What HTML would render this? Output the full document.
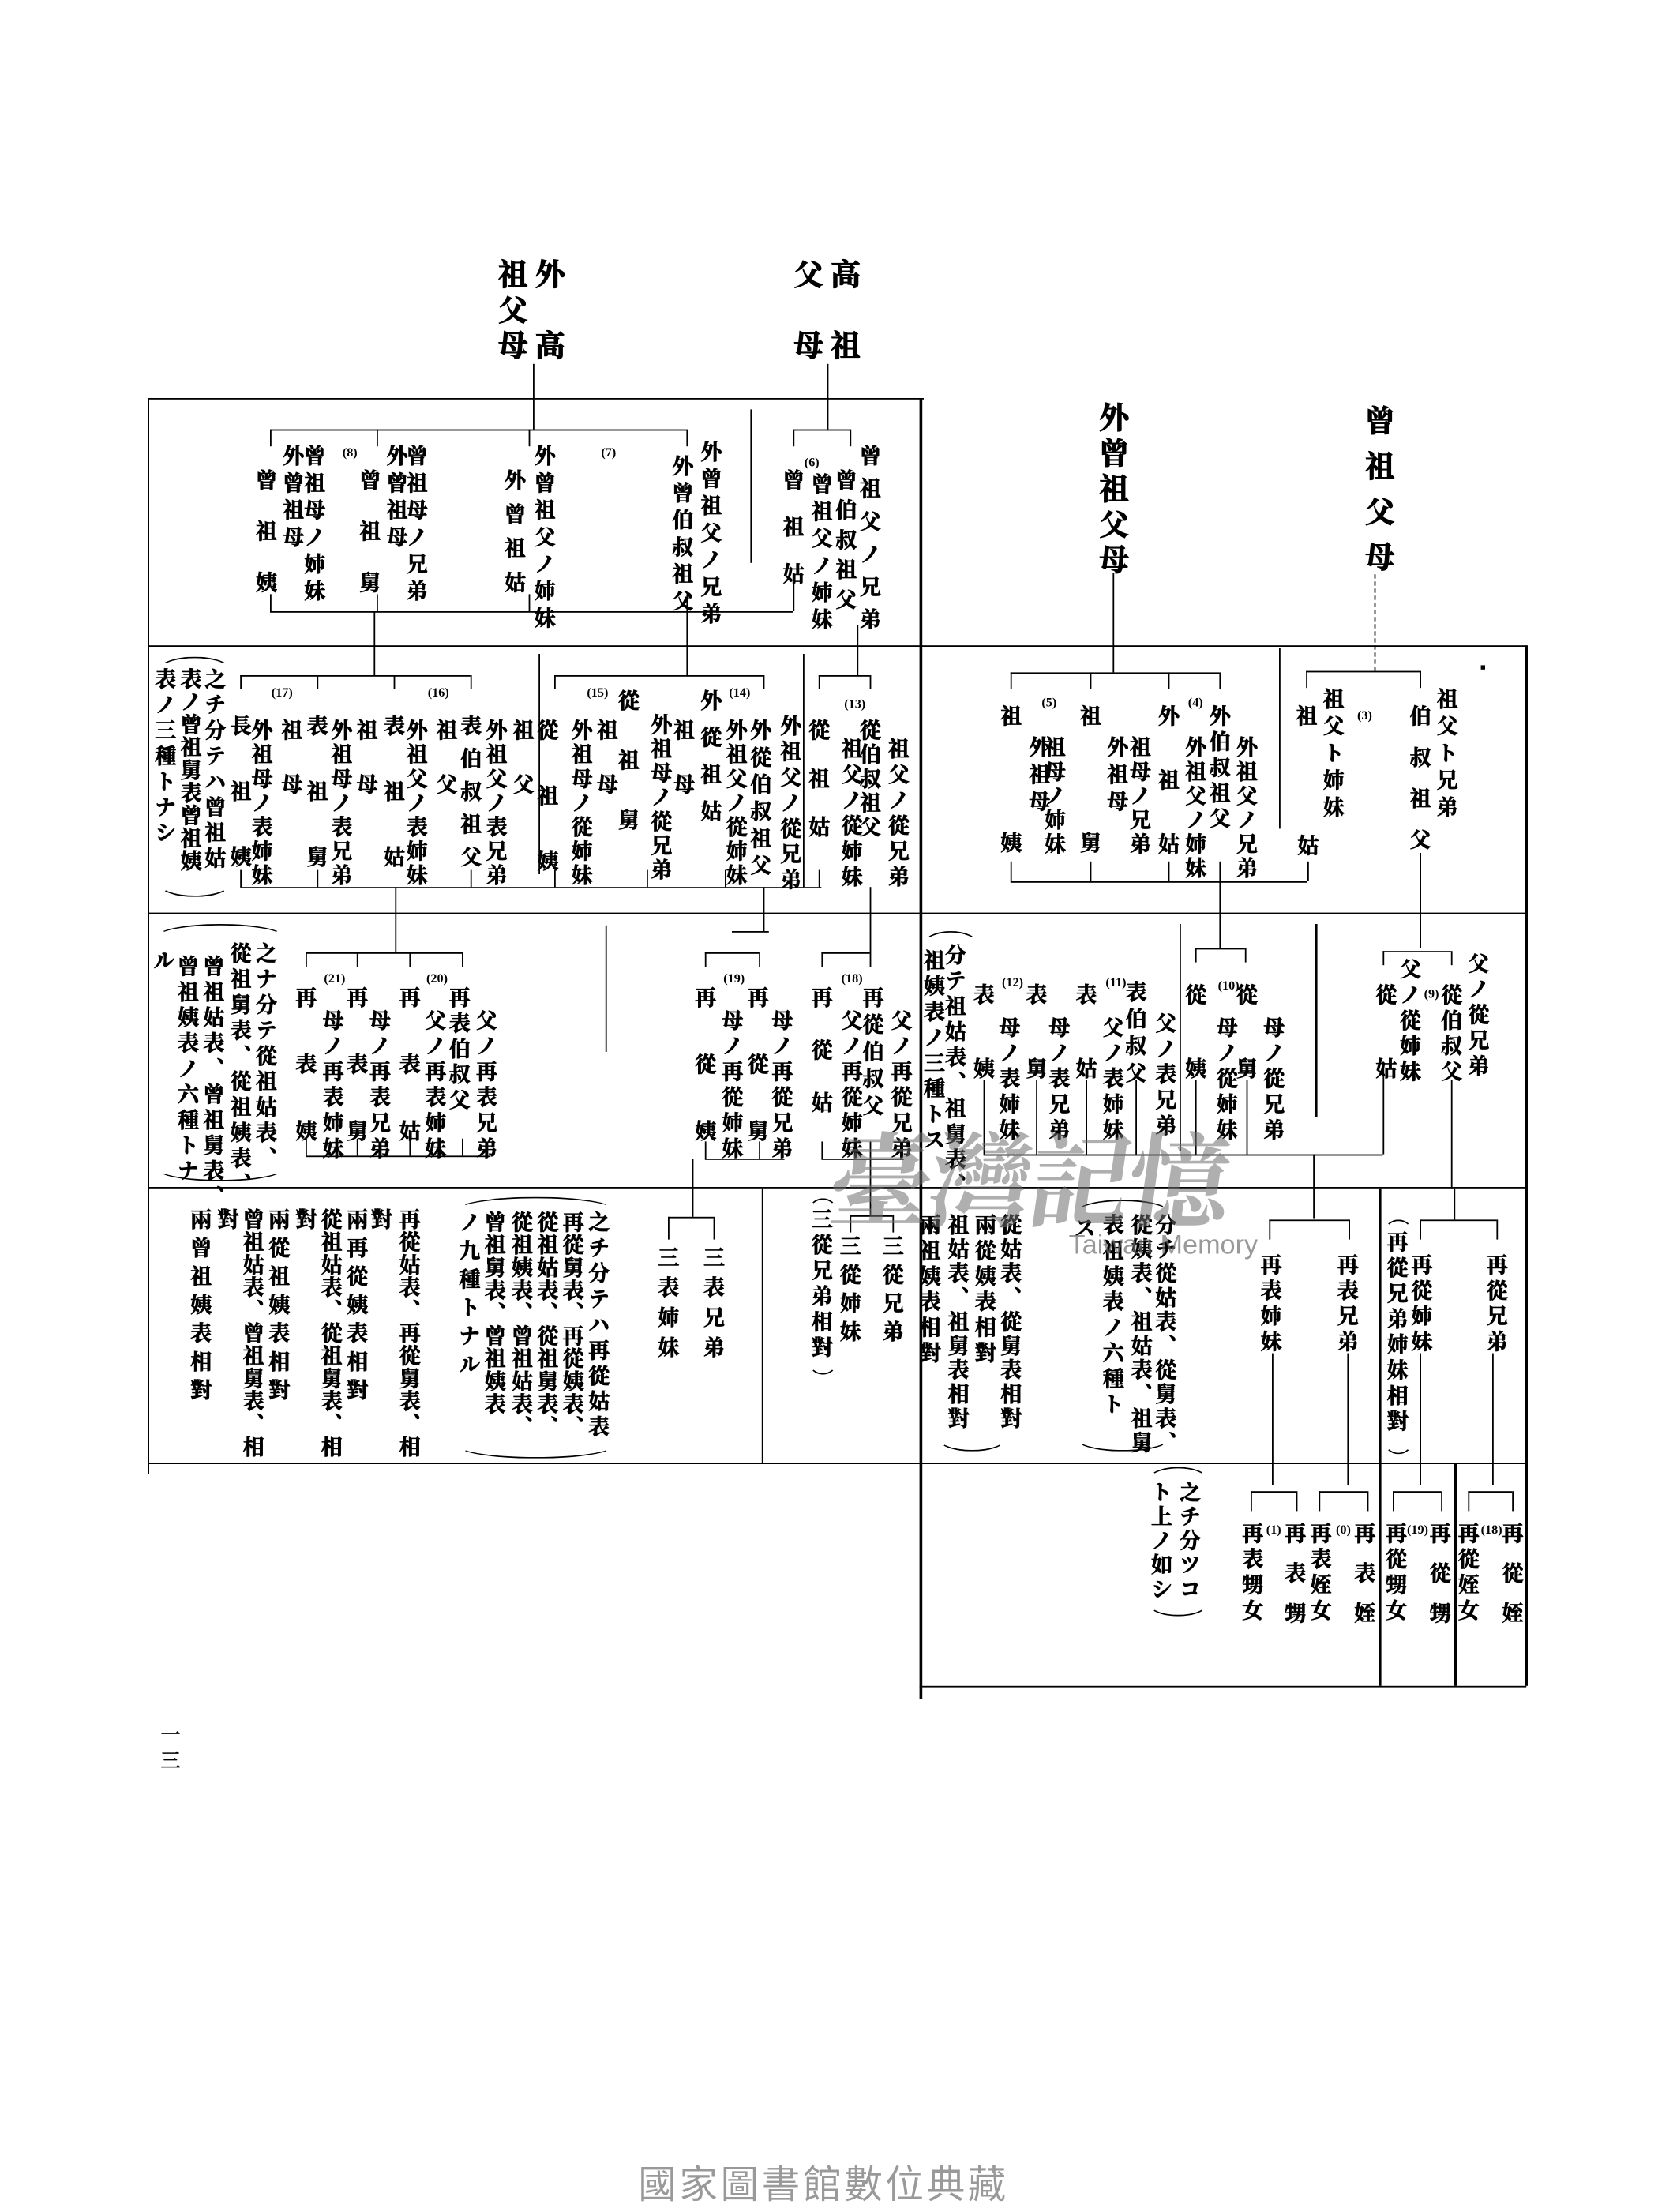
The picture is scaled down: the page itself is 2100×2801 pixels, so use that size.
<!DOCTYPE html>
<html><head><meta charset="utf-8">
<style>
html,body{margin:0;padding:0;background:#fff;}
body{width:2100px;height:2800px;overflow:hidden;position:relative;}
#w{position:absolute;left:0;top:0;width:1167px;height:1556px;transform-origin:0 0;transform:scale(1.8);}
.t{position:absolute;writing-mode:vertical-rl;font-family:"Noto Serif CJK SC","Noto Sans CJK JP",serif;font-weight:700;font-size:15px;line-height:15px;letter-spacing:4px;color:#000;white-space:nowrap;-webkit-text-stroke:0.45px #000;}
.H{font-size:21px;line-height:21px;-webkit-text-stroke:0.6px #000;}
.n{position:absolute;font-family:"Liberation Serif",serif;font-size:9px;color:#000;font-weight:700;}
.h{position:absolute;height:0;border-top:1.7px solid #000;}
.v{position:absolute;width:0;border-left:1.7px solid #000;}
.V{position:absolute;width:0;border-left:2.4px solid #000;}
.d{position:absolute;width:0;border-left:1.6px dashed #000;}
.pt{position:absolute;border:1.8px solid #000;border-bottom:none;border-left-color:transparent;border-right-color:transparent;border-radius:50%/100% 100% 0 0;height:8px;}
.pb{position:absolute;border:1.8px solid #000;border-top:none;border-left-color:transparent;border-right-color:transparent;border-radius:50%/0 0 100% 100%;height:8px;}
</style></head><body><div id="w">

<!-- headers -->
<div class="t H" style="left:376px;top:182px;letter-spacing:29px">外高</div>
<div class="t H" style="left:350px;top:182px;letter-spacing:4px">祖父母</div>
<div class="t H" style="left:584px;top:182px;letter-spacing:29px">高祖</div>
<div class="t H" style="left:558px;top:182px;letter-spacing:29px">父母</div>
<div class="t H" style="left:773px;top:283px;letter-spacing:4px">外曾祖父母</div>
<div class="t H" style="left:960px;top:285px;letter-spacing:11px">曾祖父母</div>

<!-- frame lines -->
<div class="v" style="left:104px;top:280px;height:757px"></div>
<div class="h" style="left:104px;top:280px;width:546px"></div>
<div class="V" style="left:647px;top:280px;height:915px"></div>
<div class="h" style="left:104px;top:454px;width:970px"></div>
<div class="h" style="left:104px;top:642px;width:970px"></div>
<div class="h" style="left:104px;top:835px;width:970px"></div>
<div class="h" style="left:104px;top:1029px;width:970px"></div>
<div class="h" style="left:647px;top:1186px;width:427px"></div>
<div class="V" style="left:1073px;top:454px;height:732px"></div>
<div class="V" style="left:970px;top:836px;height:350px"></div>
<div class="V" style="left:1023px;top:1029px;height:157px"></div>

<!-- header spines -->
<div class="v" style="left:375px;top:256px;height:46px"></div>
<div class="v" style="left:582px;top:256px;height:46px"></div>
<div class="v" style="left:783px;top:403px;height:70px"></div>
<div class="d" style="left:967px;top:404px;height:68px"></div>

<!-- ROW 1 -->
<div class="h" style="left:190px;top:302px;width:293px"></div>
<div class="v" style="left:190px;top:302px;height:12px"></div>
<div class="v" style="left:265px;top:302px;height:12px"></div>
<div class="v" style="left:372px;top:302px;height:12px"></div>
<div class="v" style="left:483px;top:302px;height:12px"></div>
<div class="h" style="left:190px;top:430px;width:368px"></div>
<div class="v" style="left:190px;top:418px;height:12px"></div>
<div class="v" style="left:265px;top:418px;height:12px"></div>
<div class="v" style="left:372px;top:418px;height:12px"></div>
<div class="v" style="left:483px;top:418px;height:12px"></div>
<div class="v" style="left:558px;top:405px;height:25px"></div>
<div class="v" style="left:528px;top:288px;height:108px"></div>
<div class="h" style="left:558px;top:302px;width:40px"></div>
<div class="v" style="left:558px;top:302px;height:12px"></div>
<div class="v" style="left:598px;top:302px;height:12px"></div>

<div class="t" style="left:180px;top:330px;letter-spacing:21px">曾祖姨</div>
<div class="t" style="left:199px;top:313px">外曾祖母</div>
<div class="t" style="left:214px;top:313px">曾祖母ノ姉妹</div>
<div class="n" style="left:241px;top:313px">(8)</div>
<div class="t" style="left:253px;top:330px;letter-spacing:21px">曾祖舅</div>
<div class="t" style="left:272px;top:313px">外曾祖母</div>
<div class="t" style="left:286px;top:313px">曾祖母ノ兄弟</div>
<div class="t" style="left:355px;top:330px;letter-spacing:9px">外曾祖姑</div>
<div class="t" style="left:376px;top:313px">外曾祖父ノ姉妹</div>
<div class="n" style="left:423px;top:313px">(7)</div>
<div class="t" style="left:473px;top:320px">外曾伯叔祖父</div>
<div class="t" style="left:493px;top:310px">外曾祖父ノ兄弟</div>
<div class="t" style="left:551px;top:330px;letter-spacing:18px">曾祖姑</div>
<div class="n" style="left:566px;top:320px">(6)</div>
<div class="t" style="left:571px;top:333px">曾祖父ノ姉妹</div>
<div class="t" style="left:588px;top:330px;letter-spacing:6px">曾伯叔祖父</div>
<div class="t" style="left:605px;top:313px;letter-spacing:8px">曾祖父ノ兄弟</div>

<!-- ROW 2 left -->
<div class="v" style="left:263px;top:430px;height:45px"></div>
<div class="v" style="left:483px;top:430px;height:45px"></div>
<div class="v" style="left:603px;top:440px;height:35px"></div>
<div class="h" style="left:169px;top:475px;width:162px"></div>
<div class="v" style="left:169px;top:475px;height:10px"></div>
<div class="v" style="left:223px;top:475px;height:10px"></div>
<div class="v" style="left:277px;top:475px;height:10px"></div>
<div class="v" style="left:331px;top:475px;height:10px"></div>
<div class="h" style="left:390px;top:475px;width:147px"></div>
<div class="v" style="left:390px;top:475px;height:10px"></div>
<div class="v" style="left:537px;top:475px;height:10px"></div>
<div class="h" style="left:576px;top:475px;width:36px"></div>
<div class="v" style="left:576px;top:475px;height:10px"></div>
<div class="v" style="left:612px;top:475px;height:10px"></div>
<div class="v" style="left:379px;top:460px;height:155px"></div>
<div class="v" style="left:565px;top:460px;height:164px"></div>
<div class="h" style="left:169px;top:624px;width:409px"></div>
<div class="v" style="left:169px;top:612px;height:12px"></div>
<div class="v" style="left:223px;top:612px;height:12px"></div>
<div class="v" style="left:331px;top:612px;height:12px"></div>
<div class="v" style="left:390px;top:612px;height:12px"></div>
<div class="v" style="left:455px;top:612px;height:12px"></div>
<div class="v" style="left:510px;top:612px;height:12px"></div>
<div class="v" style="left:576px;top:612px;height:12px"></div>

<div class="pt" style="left:112px;top:462px;width:48px"></div>
<div class="pb" style="left:112px;top:622px;width:48px"></div>
<div class="t" style="left:144px;top:470px;letter-spacing:3px">之チ分テハ曾祖姑</div>
<div class="t" style="left:127px;top:470px;letter-spacing:1px">表ノ曾祖舅表曾祖姨</div>
<div class="t" style="left:109px;top:470px;letter-spacing:3px">表ノ三種トナシ</div>

<div class="t" style="left:162px;top:503px;letter-spacing:31px">長祖姨</div>
<div class="n" style="left:191px;top:482px">(17)</div>
<div class="t" style="left:177px;top:506px;letter-spacing:2px">外祖母ノ表姉妹</div>
<div class="t" style="left:198px;top:506px;letter-spacing:23px">祖母</div>
<div class="t" style="left:216px;top:503px;letter-spacing:31px">表祖舅</div>
<div class="t" style="left:233px;top:506px;letter-spacing:2px">外祖母ノ表兄弟</div>
<div class="t" style="left:251px;top:506px;letter-spacing:23px">祖母</div>
<div class="t" style="left:270px;top:503px;letter-spacing:31px">表祖姑</div>
<div class="t" style="left:286px;top:506px;letter-spacing:2px">外祖父ノ表姉妹</div>
<div class="n" style="left:301px;top:482px">(16)</div>
<div class="t" style="left:307px;top:506px;letter-spacing:23px">祖父</div>
<div class="t" style="left:324px;top:503px;letter-spacing:8px">表伯叔祖父</div>
<div class="t" style="left:342px;top:506px;letter-spacing:2px">外祖父ノ表兄弟</div>
<div class="t" style="left:361px;top:506px;letter-spacing:23px">祖父</div>
<div class="t" style="left:378px;top:506px;letter-spacing:31px">從祖姨</div>
<div class="t" style="left:402px;top:506px;letter-spacing:2px">外祖母ノ從姉妹</div>
<div class="n" style="left:413px;top:482px">(15)</div>
<div class="t" style="left:420px;top:506px;letter-spacing:23px">祖母</div>
<div class="t" style="left:435px;top:485px;letter-spacing:27px">從祖舅</div>
<div class="t" style="left:458px;top:502px;letter-spacing:2px">外祖母ノ從兄弟</div>
<div class="t" style="left:474px;top:506px;letter-spacing:23px">祖母</div>
<div class="t" style="left:493px;top:485px;letter-spacing:11px">外從祖姑</div>
<div class="n" style="left:513px;top:482px">(14)</div>
<div class="t" style="left:511px;top:506px;letter-spacing:2px">外祖父ノ從姉妹</div>
<div class="t" style="left:528px;top:506px;letter-spacing:4px">外從伯叔祖父</div>
<div class="t" style="left:549px;top:503px;letter-spacing:3px">外祖父ノ從兄弟</div>
<div class="t" style="left:569px;top:506px;letter-spacing:19px">從祖姑</div>
<div class="n" style="left:594px;top:490px">(13)</div>
<div class="t" style="left:592px;top:519px;letter-spacing:3px">祖父ノ從姉妹</div>
<div class="t" style="left:605px;top:506px;letter-spacing:2px">從伯叔祖父</div>
<div class="t" style="left:625px;top:519px;letter-spacing:3px">祖父ノ從兄弟</div>

<!-- ROW 3 left -->
<div class="v" style="left:278px;top:624px;height:46px"></div>
<div class="v" style="left:537px;top:624px;height:31px"></div>
<div class="h" style="left:515px;top:655px;width:26px"></div>
<div class="v" style="left:612px;top:624px;height:46px"></div>
<div class="v" style="left:426px;top:651px;height:89px"></div>
<div class="h" style="left:215px;top:670px;width:110px"></div>
<div class="v" style="left:215px;top:670px;height:10px"></div>
<div class="v" style="left:251px;top:670px;height:10px"></div>
<div class="v" style="left:288px;top:670px;height:10px"></div>
<div class="v" style="left:325px;top:670px;height:10px"></div>
<div class="h" style="left:215px;top:813px;width:130px"></div>
<div class="v" style="left:215px;top:801px;height:12px"></div>
<div class="v" style="left:251px;top:801px;height:12px"></div>
<div class="v" style="left:288px;top:801px;height:12px"></div>
<div class="v" style="left:325px;top:801px;height:12px"></div>
<div class="h" style="left:496px;top:670px;width:38px"></div>
<div class="v" style="left:496px;top:670px;height:10px"></div>
<div class="v" style="left:534px;top:670px;height:10px"></div>
<div class="h" style="left:496px;top:815px;width:56px"></div>
<div class="v" style="left:496px;top:803px;height:12px"></div>
<div class="v" style="left:534px;top:803px;height:12px"></div>
<div class="v" style="left:487px;top:815px;height:41px"></div>
<div class="h" style="left:578px;top:670px;width:34px"></div>
<div class="v" style="left:578px;top:670px;height:10px"></div>
<div class="v" style="left:612px;top:670px;height:10px"></div>
<div class="h" style="left:578px;top:815px;width:58px"></div>
<div class="v" style="left:578px;top:803px;height:12px"></div>
<div class="v" style="left:612px;top:803px;height:12px"></div>
<div class="v" style="left:612px;top:815px;height:40px"></div>

<div class="pt" style="left:110px;top:650px;width:88px"></div>
<div class="pb" style="left:110px;top:822px;width:88px"></div>
<div class="t" style="left:180px;top:663px;letter-spacing:3px">之ナ分テ從祖姑表、</div>
<div class="t" style="left:162px;top:663px;letter-spacing:3px">從祖舅表、從祖姨表、</div>
<div class="t" style="left:143px;top:672px;letter-spacing:3px">曾祖姑表、曾祖舅表、</div>
<div class="t" style="left:125px;top:672px;letter-spacing:3px">曾祖姨表ノ六種トナ</div>
<div class="t" style="left:108px;top:668px">ル</div>

<div class="t" style="left:208px;top:694px;letter-spacing:32px">再表姨</div>
<div class="n" style="left:228px;top:683px">(21)</div>
<div class="t" style="left:227px;top:710px;letter-spacing:3px">母ノ再表姉妹</div>
<div class="t" style="left:244px;top:694px;letter-spacing:32px">再表舅</div>
<div class="t" style="left:260px;top:710px;letter-spacing:3px">母ノ再表兄弟</div>
<div class="t" style="left:281px;top:694px;letter-spacing:32px">再表姑</div>
<div class="n" style="left:300px;top:683px">(20)</div>
<div class="t" style="left:299px;top:710px;letter-spacing:3px">父ノ再表姉妹</div>
<div class="t" style="left:316px;top:694px;letter-spacing:3px">再表伯叔父</div>
<div class="t" style="left:335px;top:710px;letter-spacing:3px">父ノ再表兄弟</div>

<div class="t" style="left:489px;top:694px;letter-spacing:32px">再從姨</div>
<div class="n" style="left:509px;top:683px">(19)</div>
<div class="t" style="left:508px;top:710px;letter-spacing:3px">母ノ再從姉妹</div>
<div class="t" style="left:526px;top:694px;letter-spacing:32px">再從舅</div>
<div class="t" style="left:543px;top:710px;letter-spacing:3px">母ノ再從兄弟</div>
<div class="t" style="left:571px;top:694px;letter-spacing:22px">再從姑</div>
<div class="n" style="left:592px;top:683px">(18)</div>
<div class="t" style="left:592px;top:710px;letter-spacing:3px">父ノ再從姉妹</div>
<div class="t" style="left:607px;top:694px;letter-spacing:4px">再從伯叔父</div>
<div class="t" style="left:627px;top:710px;letter-spacing:3px">父ノ再從兄弟</div>

<!-- ROW 4 left -->
<div class="t" style="left:281px;top:850px;letter-spacing:1px">再從姑表、再從舅表、相</div>
<div class="t" style="left:261px;top:850px">對</div>
<div class="t" style="left:244px;top:850px;letter-spacing:5px">兩再從姨表相對</div>
<div class="t" style="left:226px;top:850px;letter-spacing:1px">從祖姑表、從祖舅表、相</div>
<div class="t" style="left:208px;top:850px">對</div>
<div class="t" style="left:189px;top:850px;letter-spacing:5px">兩從祖姨表相對</div>
<div class="t" style="left:171px;top:850px;letter-spacing:1px">曾祖姑表、曾祖舅表、相</div>
<div class="t" style="left:153px;top:850px">對</div>
<div class="t" style="left:134px;top:850px;letter-spacing:5px">兩曾祖姨表相對</div>

<div class="pt" style="left:322px;top:842px;width:108px"></div>
<div class="pb" style="left:322px;top:1017px;width:108px"></div>
<div class="t" style="left:414px;top:852px;letter-spacing:3px">之チ分テハ再從姑表</div>
<div class="t" style="left:396px;top:852px;letter-spacing:1px">再從舅表、再從姨表、</div>
<div class="t" style="left:378px;top:852px;letter-spacing:1px">從祖姑表、從祖舅表、</div>
<div class="t" style="left:360px;top:852px;letter-spacing:1px">從祖姨表、曾祖姑表、</div>
<div class="t" style="left:341px;top:852px;letter-spacing:1px">曾祖舅表、曾祖姨表</div>
<div class="t" style="left:323px;top:852px;letter-spacing:5px">ノ九種トナル</div>

<div class="h" style="left:470px;top:856px;width:32px"></div>
<div class="v" style="left:470px;top:856px;height:16px"></div>
<div class="v" style="left:502px;top:856px;height:16px"></div>
<div class="t" style="left:495px;top:877px;letter-spacing:6px">三表兄弟</div>
<div class="t" style="left:463px;top:877px;letter-spacing:6px">三表姉妹</div>
<div class="v" style="left:536px;top:836px;height:193px"></div>
<div class="pt" style="left:569px;top:843px;width:18px"></div>
<div class="pb" style="left:569px;top:958px;width:18px"></div>
<div class="t" style="left:571px;top:850px;letter-spacing:3px">三從兄弟相對</div>
<div class="h" style="left:598px;top:855px;width:30px"></div>
<div class="v" style="left:598px;top:855px;height:12px"></div>
<div class="v" style="left:628px;top:855px;height:12px"></div>
<div class="t" style="left:591px;top:869px;letter-spacing:5px">三從姉妹</div>
<div class="t" style="left:621px;top:869px;letter-spacing:5px">三從兄弟</div>

<!-- RIGHT SECTION row R1 -->
<div class="v" style="left:900px;top:456px;height:127px"></div>
<div class="h" style="left:711px;top:473px;width:147px"></div>
<div class="v" style="left:711px;top:473px;height:12px"></div>
<div class="v" style="left:767px;top:473px;height:12px"></div>
<div class="v" style="left:822px;top:473px;height:12px"></div>
<div class="v" style="left:858px;top:473px;height:12px"></div>
<div class="h" style="left:711px;top:620px;width:209px"></div>
<div class="v" style="left:711px;top:606px;height:14px"></div>
<div class="v" style="left:767px;top:606px;height:14px"></div>
<div class="v" style="left:822px;top:606px;height:14px"></div>
<div class="v" style="left:858px;top:606px;height:14px"></div>
<div class="v" style="left:920px;top:606px;height:14px"></div>
<div class="v" style="left:858px;top:620px;height:47px"></div>
<div class="h" style="left:919px;top:472px;width:80px"></div>
<div class="v" style="left:919px;top:472px;height:12px"></div>
<div class="v" style="left:999px;top:472px;height:12px"></div>
<div class="v" style="left:999px;top:600px;height:67px"></div>
<div style="position:absolute;left:1042px;top:468px;width:3px;height:3px;background:#000"></div>

<div class="t" style="left:704px;top:496px;letter-spacing:74px">祖姨</div>
<div class="n" style="left:733px;top:489px">(5)</div>
<div class="t" style="left:724px;top:518px;letter-spacing:4px">外祖母</div>
<div class="t" style="left:735px;top:518px;letter-spacing:2px">祖母ノ姉妹</div>
<div class="t" style="left:760px;top:496px;letter-spacing:74px">祖舅</div>
<div class="t" style="left:779px;top:518px;letter-spacing:4px">外祖母</div>
<div class="t" style="left:795px;top:518px;letter-spacing:2px">祖母ノ兄弟</div>
<div class="t" style="left:815px;top:496px;letter-spacing:30px">外祖姑</div>
<div class="n" style="left:836px;top:489px">(4)</div>
<div class="t" style="left:834px;top:518px;letter-spacing:2px">外祖父ノ姉妹</div>
<div class="t" style="left:851px;top:496px;letter-spacing:3px">外伯叔祖父</div>
<div class="t" style="left:870px;top:518px;letter-spacing:2px">外祖父ノ兄弟</div>
<div class="t" style="left:913px;top:587px">姑</div>
<div class="t" style="left:912px;top:496px">祖</div>
<div class="t" style="left:931px;top:484px;letter-spacing:4px">祖父ト姉妹</div>
<div class="n" style="left:955px;top:498px">(3)</div>
<div class="t" style="left:992px;top:496px;letter-spacing:14px">伯叔祖父</div>
<div class="t" style="left:1011px;top:484px;letter-spacing:4px">祖父ト兄弟</div>

<!-- RIGHT row R2 -->
<div class="V" style="left:925px;top:650px;height:136px"></div>
<div class="v" style="left:830px;top:650px;height:160px"></div>
<div class="h" style="left:841px;top:667px;width:35px"></div>
<div class="v" style="left:841px;top:667px;height:10px"></div>
<div class="v" style="left:876px;top:667px;height:10px"></div>
<div class="h" style="left:973px;top:669px;width:48px"></div>
<div class="v" style="left:973px;top:669px;height:10px"></div>
<div class="v" style="left:1021px;top:669px;height:10px"></div>
<div class="h" style="left:692px;top:812px;width:281px"></div>
<div class="v" style="left:692px;top:760px;height:52px"></div>
<div class="v" style="left:729px;top:760px;height:52px"></div>
<div class="v" style="left:764px;top:760px;height:52px"></div>
<div class="v" style="left:799px;top:760px;height:52px"></div>
<div class="v" style="left:841px;top:760px;height:52px"></div>
<div class="v" style="left:877px;top:760px;height:52px"></div>
<div class="v" style="left:973px;top:750px;height:62px"></div>
<div class="v" style="left:1021px;top:760px;height:76px"></div>
<div class="v" style="left:924px;top:812px;height:45px"></div>
<div class="v" style="left:1023px;top:836px;height:22px"></div>

<div class="pt" style="left:650px;top:655px;width:36px"></div>
<div class="t" style="left:665px;top:664px;letter-spacing:3px">分テ祖姑表、祖舅表、</div>
<div class="t" style="left:650px;top:668px;letter-spacing:3px">祖姨表ノ三種トス</div>
<div class="t" style="left:685px;top:692px;letter-spacing:37px">表姨</div>
<div class="n" style="left:705px;top:686px">(12)</div>
<div class="t" style="left:703px;top:715px;letter-spacing:3px">母ノ表姉妹</div>
<div class="t" style="left:722px;top:692px;letter-spacing:37px">表舅</div>
<div class="t" style="left:738px;top:715px;letter-spacing:3px">母ノ表兄弟</div>
<div class="t" style="left:757px;top:692px;letter-spacing:37px">表姑</div>
<div class="n" style="left:778px;top:686px">(11)</div>
<div class="t" style="left:776px;top:715px;letter-spacing:3px">父ノ表姉妹</div>
<div class="t" style="left:792px;top:690px;letter-spacing:4px">表伯叔父</div>
<div class="t" style="left:813px;top:712px;letter-spacing:3px">父ノ表兄弟</div>
<div class="t" style="left:834px;top:692px;letter-spacing:37px">從姨</div>
<div class="n" style="left:857px;top:688px">(10)</div>
<div class="t" style="left:856px;top:715px;letter-spacing:3px">母ノ從姉妹</div>
<div class="t" style="left:870px;top:692px;letter-spacing:37px">從舅</div>
<div class="t" style="left:889px;top:715px;letter-spacing:3px">母ノ從兄弟</div>
<div class="t" style="left:968px;top:692px;letter-spacing:37px">從姑</div>
<div class="t" style="left:985px;top:674px;letter-spacing:3px">父ノ從姉妹</div>
<div class="n" style="left:1002px;top:694px">(9)</div>
<div class="t" style="left:1014px;top:692px;letter-spacing:3px">從伯叔父</div>
<div class="t" style="left:1033px;top:670px;letter-spacing:3px">父ノ從兄弟</div>

<!-- RIGHT row R3 -->
<div class="h" style="left:893px;top:858px;width:56px"></div>
<div class="v" style="left:893px;top:858px;height:14px"></div>
<div class="v" style="left:949px;top:858px;height:14px"></div>
<div class="h" style="left:999px;top:858px;width:54px"></div>
<div class="v" style="left:999px;top:858px;height:14px"></div>
<div class="v" style="left:1053px;top:858px;height:14px"></div>
<div class="t" style="left:887px;top:882px;letter-spacing:3px">再表姉妹</div>
<div class="t" style="left:941px;top:882px;letter-spacing:3px">再表兄弟</div>
<div class="pt" style="left:974px;top:858px;width:18px"></div>
<div class="pb" style="left:974px;top:1014px;width:18px"></div>
<div class="t" style="left:976px;top:866px;letter-spacing:3px">再從兄弟姉妹相對</div>
<div class="t" style="left:993px;top:882px;letter-spacing:3px">再從姉妹</div>
<div class="t" style="left:1046px;top:882px;letter-spacing:3px">再從兄弟</div>
<div class="v" style="left:895px;top:952px;height:93px"></div>
<div class="v" style="left:948px;top:952px;height:93px"></div>
<div class="v" style="left:999px;top:952px;height:93px"></div>
<div class="v" style="left:1050px;top:952px;height:93px"></div>

<div class="t" style="left:704px;top:854px;letter-spacing:2px">從姑表、從舅表相對</div>
<div class="t" style="left:686px;top:854px;letter-spacing:3px">兩從姨表相對</div>
<div class="t" style="left:667px;top:854px;letter-spacing:2px">祖姑表、祖舅表相對</div>
<div class="t" style="left:647px;top:854px;letter-spacing:3px">兩祖姨表相對</div>
<div class="pb" style="left:660px;top:1012px;width:46px"></div>
<div class="pt" style="left:757px;top:844px;width:64px"></div>
<div class="pb" style="left:757px;top:1012px;width:64px"></div>
<div class="t" style="left:813px;top:854px;letter-spacing:2px">分チ從姑表、從舅表、</div>
<div class="t" style="left:796px;top:854px;letter-spacing:2px">從姨表、祖姑表、祖舅</div>
<div class="t" style="left:776px;top:854px;letter-spacing:3px">表祖姨表ノ六種ト</div>
<div class="t" style="left:756px;top:856px">ス</div>

<!-- RIGHT row R4 -->
<div class="h" style="left:880px;top:1049px;width:32px"></div>
<div class="v" style="left:880px;top:1049px;height:14px"></div>
<div class="v" style="left:912px;top:1049px;height:14px"></div>
<div class="h" style="left:928px;top:1049px;width:34px"></div>
<div class="v" style="left:928px;top:1049px;height:14px"></div>
<div class="v" style="left:962px;top:1049px;height:14px"></div>
<div class="h" style="left:980px;top:1049px;width:34px"></div>
<div class="v" style="left:980px;top:1049px;height:14px"></div>
<div class="v" style="left:1014px;top:1049px;height:14px"></div>
<div class="h" style="left:1033px;top:1049px;width:31px"></div>
<div class="v" style="left:1033px;top:1049px;height:14px"></div>
<div class="v" style="left:1064px;top:1049px;height:14px"></div>
<div class="t" style="left:874px;top:1071px;letter-spacing:3px">再表甥女</div>
<div class="n" style="left:891px;top:1071px">(1)</div>
<div class="t" style="left:904px;top:1071px;letter-spacing:13px">再表甥</div>
<div class="t" style="left:922px;top:1071px;letter-spacing:3px">再表姪女</div>
<div class="n" style="left:940px;top:1071px">(0)</div>
<div class="t" style="left:953px;top:1071px;letter-spacing:13px">再表姪</div>
<div class="t" style="left:975px;top:1071px;letter-spacing:3px">再從甥女</div>
<div class="n" style="left:990px;top:1071px">(19)</div>
<div class="t" style="left:1006px;top:1071px;letter-spacing:13px">再從甥</div>
<div class="t" style="left:1026px;top:1071px;letter-spacing:3px">再從姪女</div>
<div class="n" style="left:1042px;top:1071px">(18)</div>
<div class="t" style="left:1057px;top:1071px;letter-spacing:13px">再從姪</div>

<div class="pt" style="left:808px;top:1032px;width:40px"></div>
<div class="pb" style="left:808px;top:1128px;width:40px"></div>
<div class="t" style="left:830px;top:1042px;letter-spacing:2px">之チ分ツコ</div>
<div class="t" style="left:810px;top:1042px;letter-spacing:2px">ト上ノ如シ</div>

<!-- watermark -->
<div style="position:absolute;left:585px;top:790px;font-family:'Noto Serif CJK SC',serif;font-size:72px;line-height:72px;color:rgba(110,110,110,0.55);font-weight:700;white-space:nowrap;letter-spacing:-2px;transform:skewX(-8deg)">臺灣記憶</div>
<div style="position:absolute;left:752px;top:866px;font-family:'Liberation Sans',sans-serif;font-size:19px;color:rgba(110,110,110,0.7);white-space:nowrap">Taiwan Memory</div>

<!-- page number & footer -->
<div class="t" style="left:112px;top:1213px;font-size:14px;letter-spacing:4px;font-weight:400">一三</div>
<div style="position:absolute;left:449px;top:1520px;font-family:'Noto Sans CJK TC',sans-serif;font-size:27px;line-height:30px;color:#999;white-space:nowrap;letter-spacing:2px">國家圖書館數位典藏</div>

</div></body></html>
